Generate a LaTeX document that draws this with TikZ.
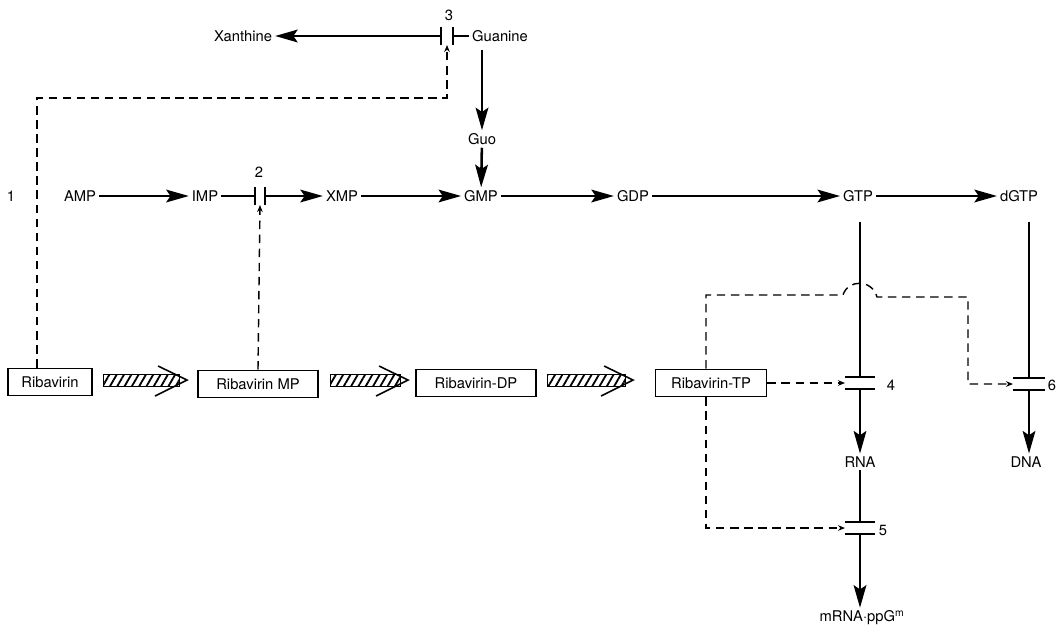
\documentclass[tikz,border=0pt]{standalone}
\usepackage{fontspec}
\setmainfont{TeX Gyre Heros}
\usetikzlibrary{arrows.meta,patterns.meta,calc}

\begin{document}
\begin{tikzpicture}[x=0.025cm,y=-0.025cm,
	lbl/.style={font=\fontsize{10.5}{12}\selectfont, inner sep=2pt},
	box/.style={draw, line width=1.1pt, minimum height=0.68cm, font=\fontsize{10.5}{12}\selectfont},
	stem/.style={line width=1.8pt},
	flow/.style={line width=1.8pt, -{Stealth[length=16pt,width=9pt,inset=3pt]}},
	bar/.style={line width=1.5pt},
	hib/.style={line width=1pt, dash pattern=on 6pt off 4pt, -{Stealth[length=5pt,width=4pt]}},
	hatch/.style={line width=0.7pt, pattern={Lines[angle=60,distance=4.5pt,line width=1.3pt]}}]

	\fill[white] (0,0) rectangle (1058,640);
	\useasboundingbox (0,0) rectangle (1058,640);

	% purine pathway
	\node (n1) [lbl] at (11, 196) {1};
	\node (amp) [lbl] at (80, 196) {AMP};
	\node (imp) [lbl] at (205, 196) {IMP};
	\node (n2) [lbl] at (259, 172) {2};
	\node (xmp) [lbl] at (342, 196) {XMP};
	\node (gmp) [lbl] at (481, 196) {GMP};
	\node (gdp) [lbl] at (633, 196) {GDP};
	\node (gtp) [lbl] at (858, 196) {GTP};
	\node (dgtp) [lbl] at (1019, 196) {dGTP};

	\node (n3) [lbl] at (449, 15) {3};
	\node (xan) [lbl] at (243, 36) {Xanthine};
	\node (gua) [lbl] at (500, 36) {Guanine};
	\node (guo) [lbl] at (482, 139) {Guo};

	\node (rna) [lbl] at (860, 462) {RNA};
	\node (dna) [lbl] at (1026, 462) {DNA};
	\node (mrna) [lbl] at (862, 618) {mRNA·ppG\textsuperscript{m}};
	\node (n4) [lbl] at (891, 385) {4};
	\node (n5) [lbl] at (883, 530) {5};
	\node (n6) [lbl] at (1052, 385) {6};

	% ribavirin and its phosphates
	\node (rib) [box, minimum width=2.1cm] at (50, 382) {Ribavirin};
	\node (ribmp) [box, minimum width=3.0cm] at (258, 384) {Ribavirin MP};
	\node (ribdp) [box, minimum width=3.0cm] at (476, 383) {Ribavirin-DP};
	\node (ribtp) [box, minimum width=2.78cm] at (711, 383) {Ribavirin-TP};

	% blocked steps
	\coordinate (b2) at (260, 196);
	\coordinate (b3) at (447, 36);
	\coordinate (b4) at (860, 383);
	\coordinate (b5) at (860, 528);
	\coordinate (b6) at (1029, 384);
	\coordinate (k3) at (447, 98);
	\coordinate (j1) at (843, 295);
	\coordinate (j2) at (877, 297);
	\coordinate (k6) at (968, 297);

	\draw[bar] ($(b2)+(-5,-9)$) -- ++(0,18);
	\draw[bar] ($(b2)+(5,-9)$) -- ++(0,18);
	\draw[bar] ($(b3)+(-6,-9)$) -- ++(0,18);
	\draw[bar] ($(b3)+(6,-9)$) -- ++(0,18);
	\draw[bar] ($(b4)+(-15,-6)$) -- ++(30,0);
	\draw[bar] ($(b4)+(-15,6)$) -- ++(30,0);
	\draw[bar] ($(b5)+(-15,-6)$) -- ++(30,0);
	\draw[bar] ($(b5)+(-15,6)$) -- ++(30,0);
	\draw[bar] ($(b6)+(-16,-6)$) -- ++(32,0);
	\draw[bar] ($(b6)+(-16,6)$) -- ++(32,0);

	\draw[flow] (amp) -- (imp);
	\draw[stem] (imp) -- ($(b2)+(-5,0)$);
	\draw[flow] ($(b2)+(5,0)$) -- (xmp);
	\draw[flow] (xmp) -- (gmp);
	\draw[flow] (gmp) -- (gdp);
	\draw[flow] (gdp) -- (gtp);
	\draw[flow] (gtp) -- (dgtp);

	\draw[flow] ($(b3)+(-6,0)$) -- (xan);
	\draw[stem] (gua) -- ($(b3)+(6,0)$);
	\draw[flow, shorten <=4pt] (gua.south -| guo) -- (guo);
	\draw[flow] (guo) -- (gmp);

	\draw[stem, shorten <=12pt] (b4 |- gtp.south) -- ($(b4)+(0,-6)$);
	\draw[flow] ($(b4)+(0,6)$) -- (rna);
	\draw[stem] (rna) -- ($(b5)+(0,-6)$);
	\draw[flow] ($(b5)+(0,6)$) -- (b5 |- mrna.north);
	\draw[stem, shorten <=12pt] (b6 |- dgtp.south) -- ($(b6)+(0,-6)$);
	\draw[flow] ($(b6)+(0,6)$) -- (b6 |- dna.north);

	% inhibitions
	\draw[hib] ($(rib.north)+(-13,0)$) |- (k3) -- ($(b3)+(0,9)$);
	\draw[hib] (ribmp.north) -- ($(b2)+(0,9)$);
	\draw[hib] (ribtp.east) -- ($(b4)+(-15,0)$);
	\draw[hib] ($(ribtp.south)+(-5,0)$) |- ($(b5)+(-15,0)$);
	\draw[hib] ($(ribtp.north)+(-5,0)$) |- (j1) .. controls (848,279) and (872,279) .. (j2) -- (k6) |- ($(b6)+(-16,0)$);

	% phosphorylation arrows
	\draw[hatch] (103, 374) rectangle (179, 386);
	\draw[line width=1.1pt] (158, 366) -- (187, 380) -- (155, 396);
	\draw[hatch] (330, 374) rectangle (400, 386);
	\draw[line width=1.1pt] (379, 366) -- (408, 380) -- (376, 396);
	\draw[hatch] (547, 374) rectangle (625, 386);
	\draw[line width=1.1pt] (604, 366) -- (633, 380) -- (601, 396);

\end{tikzpicture}
\end{document}
